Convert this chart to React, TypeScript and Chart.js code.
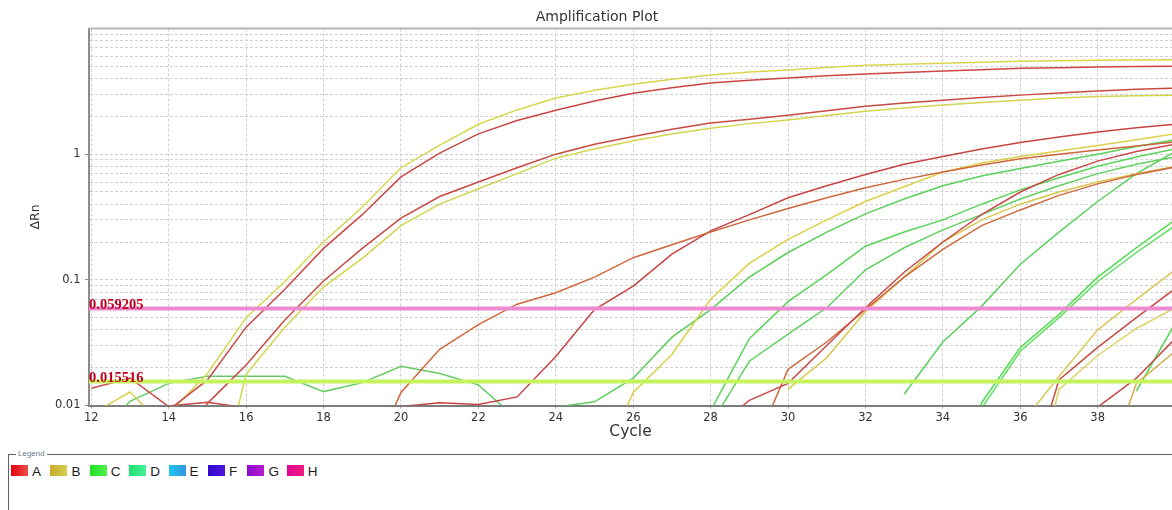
import React, { useEffect, useRef } from 'react';
import { Chart, registerables } from 'chart.js';

Chart.register(...registerables);

// Axis ranges and ticks
const CYCLE_MIN = 11.94;
const CYCLE_MAX = 39.92;
const cycleTicks = [12, 14, 16, 18, 20, 22, 24, 26, 28, 30, 32, 34, 36, 38];

const DRN_MIN = 0.01;
const DRN_MAX = 10;
const drnGrid = [
  0.01, 0.02, 0.03, 0.04, 0.05, 0.06, 0.07, 0.08, 0.09,
  0.1, 0.2, 0.3, 0.4, 0.5, 0.6, 0.7, 0.8, 0.9,
  1, 2, 3, 4, 5, 6, 7, 8, 9, 10,
];
const drnLabelValues = [0.01, 0.1, 1];
const drnLabels = ['0.01', '0.1', '1'];

const plotTitle = 'Amplification Plot';

// Thresholds
const thresholdValues = [0.059205, 0.015516];
const thresholdLabels = ['0.059205', '0.015516'];

// ΔRn readings per well, one value per cycle from the well's first cycle
const a1 = [0.0092, 0.016, 0.042, 0.084, 0.178, 0.33, 0.66, 1.02, 1.45, 1.85, 2.24, 2.65, 3.05, 3.38, 3.68, 3.88, 4.03, 4.2, 4.34, 4.46, 4.58, 4.7, 4.82, 4.88, 4.94, 4.98, 5.0];
const a2 = [0.004, 0.0104, 0.021, 0.048, 0.098, 0.178, 0.31, 0.46, 0.6, 0.78, 1.0, 1.2, 1.38, 1.58, 1.77, 1.9, 2.04, 2.22, 2.41, 2.55, 2.69, 2.82, 2.95, 3.07, 3.18, 3.28, 3.36];
const a3 = [0.0026, 0.0127, 0.028, 0.044, 0.064, 0.079, 0.105, 0.15, 0.19, 0.24, 0.3, 0.37, 0.45, 0.54, 0.63, 0.72, 0.82, 0.92, 1.0, 1.08, 1.16, 1.25];
const a4 = [0.0098, 0.0105, 0.0102, 0.0117, 0.0245, 0.058, 0.089, 0.16, 0.245, 0.33, 0.45, 0.56, 0.69, 0.83, 0.96, 1.1, 1.24, 1.37, 1.5, 1.62, 1.73];
const a5 = [0.006, 0.011, 0.015, 0.03, 0.06, 0.115, 0.2, 0.33, 0.5, 0.69, 0.88, 1.05, 1.2];
const a6 = [0.0037, 0.0194, 0.032, 0.058, 0.105, 0.175, 0.27, 0.36, 0.47, 0.58, 0.69, 0.79];
const a7 = [0.0015, 0.016, 0.029, 0.05, 0.085];
const a8 = [0.0097, 0.0165, 0.034];
const a9 = [0.0137, 0.0165, 0.0098, 0.003];
const a10 = [0.0099, 0.0106, 0.0096];

const b1 = [0.0086, 0.018, 0.05, 0.097, 0.2, 0.38, 0.78, 1.18, 1.73, 2.25, 2.8, 3.22, 3.6, 3.95, 4.26, 4.5, 4.67, 4.9, 5.1, 5.2, 5.3, 5.4, 5.5, 5.55, 5.6, 5.62, 5.65];
const b2 = [0.001, 0.0177, 0.042, 0.088, 0.148, 0.27, 0.4, 0.53, 0.7, 0.93, 1.1, 1.28, 1.45, 1.61, 1.75, 1.87, 2.03, 2.2, 2.33, 2.46, 2.58, 2.69, 2.8, 2.88, 2.92, 2.95];
const b3 = [0.0026, 0.0127, 0.0255, 0.07, 0.135, 0.21, 0.3, 0.42, 0.55, 0.72, 0.85, 0.96, 1.06, 1.17, 1.3, 1.45];
const b4 = [0.0135, 0.024, 0.056, 0.105, 0.2, 0.3, 0.4, 0.5, 0.6, 0.7, 0.8];
const b5 = [0.007, 0.017, 0.04, 0.07, 0.12];
const b6 = [0.0007, 0.0134, 0.025, 0.041, 0.06];
const b7 = [0.002, 0.015, 0.027];
const b8 = [0.0085, 0.0128, 0.0063];

const c1 = [0.0097, 0.0107, 0.0165, 0.035, 0.058, 0.105, 0.165, 0.24, 0.335, 0.44, 0.56, 0.67, 0.77, 0.88, 1.0, 1.15, 1.3];
const c2 = [0.0091, 0.034, 0.067, 0.11, 0.185, 0.24, 0.3, 0.4, 0.52, 0.65, 0.8, 0.95, 1.1];
const c3 = [0.0071, 0.0225, 0.037, 0.06, 0.12, 0.18, 0.25, 0.33, 0.44, 0.56, 0.7, 0.83, 0.95];
const c4 = [0.0123, 0.032, 0.0615, 0.133, 0.24, 0.42, 0.7, 1.05];
const c5 = [0.0004, 0.0105, 0.029, 0.053, 0.105, 0.18, 0.3];
const c6 = [0.0003, 0.0095, 0.027, 0.05, 0.097, 0.165, 0.27];
const c7 = [0.013, 0.045];
const c8 = [0.005, 0.0108, 0.015, 0.0171, 0.0171, 0.0171, 0.0129, 0.0152, 0.0205, 0.018, 0.0146, 0.0078];

// First cycle of each well's readings
const wellStart: Record<string, number> = {
  A1: 14, A2: 14, A3: 19, A4: 20, A5: 28, A6: 29, A7: 36, A8: 38, A9: 12, A10: 14,
  B1: 14, B2: 15, B3: 25, B4: 30, B5: 36, B6: 36, B7: 38, B8: 12,
  C1: 24, C2: 28, C3: 28, C4: 33, C5: 34, C6: 34, C7: 39, C8: 12,
};

const wellValues: Record<string, number[]> = {
  A1: a1, A2: a2, A3: a3, A4: a4, A5: a5, A6: a6, A7: a7, A8: a8, A9: a9, A10: a10,
  B1: b1, B2: b2, B3: b3, B4: b4, B5: b5, B6: b6, B7: b7, B8: b8,
  C1: c1, C2: c2, C3: c3, C4: c4, C5: c5, C6: c6, C7: c7, C8: c8,
};

const wellColors: Record<string, string> = {
  A1: '#cc4646', A2: '#c94a44', A3: '#d0673c', A4: '#c84444', A5: '#c94848',
  A6: '#cf6a3e', A7: '#c64a42', A8: '#c84646', A9: '#cd5050', A10: '#c84848',
  B1: '#d6d84c', B2: '#d2d64e', B3: '#dcd048', B4: '#d8c64a', B5: '#dcc858',
  B6: '#dcd468', B7: '#d8a848', B8: '#d8d050',
  C1: '#5ccf5c', C2: '#58d458', C3: '#62d062', C4: '#5cd05c', C5: '#48dc48',
  C6: '#5ee05e', C7: '#52d452', C8: '#64cc64',
};

const thresholdColors = ['#ec8ad2', '#c4f35e'];

// Row legend
const legendRows = ['A', 'B', 'C', 'D', 'E', 'F', 'G', 'H'];
const legendGradients = [
  ['#e4000e', '#f0504a'],
  ['#c8a82c', '#d4d050'],
  ['#22e028', '#4cf04c'],
  ['#1ee070', '#4cf09c'],
  ['#1cc8ec', '#3494e0'],
  ['#3408cc', '#4c14e0'],
  ['#8c0cd0', '#b81ccc'],
  ['#e00894', '#f01c7c'],
];

const SANS = '"DejaVu Sans", Verdana, sans-serif';

// Title, top frame line and threshold captions
const plotDecor = {
  id: 'plotDecor',
  afterDatasetsDraw(chart: any) {
    const { ctx, chartArea, scales } = chart;
    ctx.save();
    ctx.strokeStyle = '#b6b6b6';
    ctx.lineWidth = 2;
    ctx.beginPath();
    ctx.moveTo(chartArea.left, chartArea.top);
    ctx.lineTo(chartArea.right, chartArea.top);
    ctx.stroke();

    ctx.font = `14px ${SANS}`;
    ctx.fillStyle = '#333333';
    ctx.textAlign = 'center';
    ctx.textBaseline = 'middle';
    ctx.fillText(plotTitle, 597, 17);

    ctx.font = 'bold 14.5px "Liberation Serif", "Times New Roman", serif';
    ctx.fillStyle = '#c2001e';
    ctx.textAlign = 'left';
    ctx.textBaseline = 'alphabetic';
    thresholdValues.forEach((v, i) => {
      const y = scales.y.getPixelForValue(v);
      ctx.fillText(thresholdLabels[i], chartArea.left, y + 0.5);
    });
    ctx.restore();
  },
};

function AmplificationChart() {
  const canvasRef = useRef<HTMLCanvasElement | null>(null);

  useEffect(() => {
    const canvas = canvasRef.current;
    if (!canvas) return;

    const thresholdSets = thresholdValues.map((t, i) => ({
      data: [
        { x: CYCLE_MIN, y: t },
        { x: CYCLE_MAX, y: t },
      ],
      borderColor: thresholdColors[i],
      borderWidth: 4,
      pointRadius: 0,
      clip: 0,
      order: 0,
    }));

    const wellSets = Object.keys(wellValues).map((well) => ({
      label: well,
      data: wellValues[well].map((v, i) => ({ x: wellStart[well] + i, y: v })),
      borderColor: wellColors[well],
      borderWidth: 1.5,
      pointRadius: 0,
      tension: 0,
      clip: 0,
      order: 1,
    }));

    const isLabelled = (v: number) => drnLabelValues.some((x) => Math.abs(x - v) < 1e-9);

    const chart = new Chart(canvas, {
      type: 'line',
      data: { datasets: [...thresholdSets, ...wellSets] as any },
      plugins: [plotDecor],
      options: {
        animation: false,
        responsive: false,
        devicePixelRatio: 1,
        events: [],
        layout: { padding: { top: 28.5, left: 0, right: 0, bottom: 0 } },
        font: { family: SANS },
        plugins: {
          legend: { display: false },
          tooltip: { enabled: false },
          title: { display: false },
        },
        scales: {
          x: {
            type: 'linear',
            min: CYCLE_MIN,
            max: CYCLE_MAX,
            afterBuildTicks: (s: any) => {
              s.ticks = cycleTicks.map((v) => ({ value: v }));
            },
            afterFit: (s: any) => {
              s.height = 39.5;
            },
            ticks: {
              autoSkip: false,
              maxRotation: 0,
              padding: 3,
              color: '#333333',
              font: { family: SANS, size: 11.5 },
              callback: (v: any) => String(v),
            },
            grid: {
              color: '#d0d0d0',
              lineWidth: 1,
              tickLength: 3,
              tickColor: '#9a9a9a',
            },
            border: { display: true, color: '#7c7c7c', width: 2, dash: [3, 2] },
            title: {
              display: true,
              text: 'Cycle',
              color: '#333333',
              font: { family: SANS, size: 15.5 },
              padding: { top: 0, bottom: 3.7 },
            },
          },
          y: {
            type: 'logarithmic',
            min: DRN_MIN,
            max: DRN_MAX,
            afterBuildTicks: (s: any) => {
              s.ticks = drnGrid.map((v) => ({ value: v }));
            },
            afterFit: (s: any) => {
              s.width = 89;
            },
            ticks: {
              autoSkip: false,
              padding: 4.5,
              color: '#333333',
              font: { family: SANS, size: 11.5 },
              callback: (v: any) => {
                const i = drnLabelValues.findIndex((x) => Math.abs(x - Number(v)) < 1e-9);
                return i >= 0 ? drnLabels[i] : '';
              },
            },
            grid: {
              color: '#d0d0d0',
              lineWidth: 1,
              tickLength: 4,
              tickColor: (ctx: any) => (ctx.tick && isLabelled(ctx.tick.value) ? '#8a8a8a' : 'rgba(0,0,0,0)'),
            },
            border: { display: true, color: '#8c8c8c', width: 2, dash: [3, 2] },
            title: {
              display: true,
              text: 'ΔRn',
              color: '#333333',
              font: { family: SANS, size: 12.5 },
              padding: { top: 28.5, bottom: 0 },
            },
          },
        },
      } as any,
    });

    return () => chart.destroy();
  }, []);

  return (
    <canvas
      ref={canvasRef}
      width={1172}
      height={445}
      style={{ position: 'absolute', left: 0, top: 0, width: 1172, height: 445 }}
    />
  );
}

function RowLegend() {
  const frame = '#56626e';
  return (
    <>
      <div
        style={{
          position: 'absolute',
          left: 8,
          top: 454,
          width: 1172,
          height: 60,
          borderTop: `1px solid ${frame}`,
          borderLeft: `1px solid ${frame}`,
          boxSizing: 'border-box',
        }}
      />
      <div
        style={{
          position: 'absolute',
          left: 16,
          top: 449,
          padding: '0 2px',
          background: '#ffffff',
          fontFamily: '"Liberation Sans", Arial, sans-serif',
          fontSize: 8,
          lineHeight: '10px',
          color: '#6b7886',
        }}
      >
        Legend
      </div>
      {legendRows.map((row, i) => {
        const left = 11 + i * 39.4;
        const [g0, g1] = legendGradients[i];
        return (
          <React.Fragment key={row}>
            <div
              style={{
                position: 'absolute',
                left,
                top: 465,
                width: 17,
                height: 11,
                background: `linear-gradient(to right, ${g0}, ${g1})`,
              }}
            />
            <div
              style={{
                position: 'absolute',
                left: left + 21,
                top: 463.5,
                fontFamily: '"Liberation Sans", Arial, sans-serif',
                fontSize: 13.5,
                lineHeight: '15px',
                color: '#1c1c1c',
              }}
            >
              {row}
            </div>
          </React.Fragment>
        );
      })}
    </>
  );
}

export default function App() {
  return (
    <div
      style={{
        position: 'absolute',
        left: 0,
        top: 0,
        width: 1172,
        height: 510,
        overflow: 'hidden',
        background: '#ffffff',
      }}
    >
      <AmplificationChart />
      <RowLegend />
    </div>
  );
}
